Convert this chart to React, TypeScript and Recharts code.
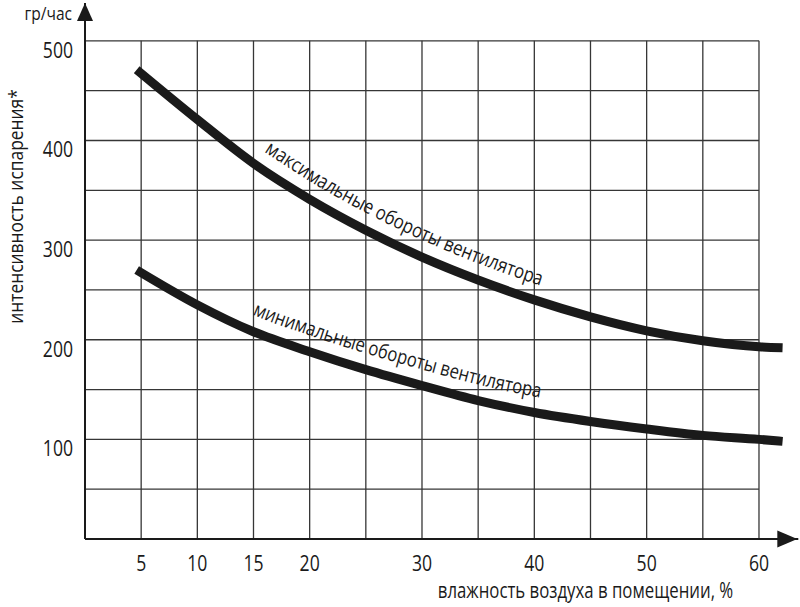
import React from 'react';
import { LineChart, Line, XAxis, YAxis, ReferenceLine, ReferenceDot, Customized } from 'recharts';

// ---- data ----
const humidity = [4.6, 10, 15, 20, 25, 30, 35, 40, 45, 50, 55, 60, 62.1];
const maxFan = [471, 421, 377, 341, 310, 283, 260, 240, 223, 209, 199, 193, 192];
const minFan = [270, 235, 208, 188, 170, 154, 139, 127, 118, 110.5, 104, 100, 98];
const xTickLabels = [5, 10, 15, 20, 30, 40, 50, 60];
const yTickLabels = [100, 200, 300, 400, 500];
const xGridValues = [5, 10, 15, 20, 25, 30, 35, 40, 45, 50, 55, 60];
const yGridValues = [50, 100, 150, 200, 250, 300, 350, 400, 450, 500];
const maxLabel = 'максимальные обороты вентилятора';
const minLabel = 'минимальные обороты вентилятора';
const xTitle = 'влажность воздуха в помещении, %';
const yTitle = 'интенсивность испарения*';
const yUnit = 'гр/час';

const data = humidity.map((h, i) => ({ h, max: maxFan[i], min: minFan[i] }));

const FONT = "'Open Sans', 'Noto Sans', 'DejaVu Sans', sans-serif";
const INK = '#1a1a1a';
const GRID = '#363636';

function offsetPoints(pts: any[], lift: number) {
  return pts.map((q: any, i: number) => {
    const a = pts[Math.max(i - 1, 0)];
    const b = pts[Math.min(i + 1, pts.length - 1)];
    const tx = b.x - a.x;
    const ty = b.y - a.y;
    const L = Math.hypot(tx, ty) || 1;
    return { x: q.x + (ty / L) * lift, y: q.y - (tx / L) * lift };
  });
}

function labelPath(pts: any[], fromIdx: number, lift: number) {
  const p = offsetPoints(pts, lift).slice(fromIdx);
  let d = `M${p[0].x},${p[0].y}`;
  for (let i = 0; i < p.length - 1; i++) {
    const p0 = p[i - 1] || p[i];
    const p1 = p[i];
    const p2 = p[i + 1];
    const p3 = p[i + 2] || p2;
    const c1x = p1.x + (p2.x - p0.x) / 6;
    const c1y = p1.y + (p2.y - p0.y) / 6;
    const c2x = p2.x - (p3.x - p1.x) / 6;
    const c2y = p2.y - (p3.y - p1.y) / 6;
    d += ` C${c1x},${c1y} ${c2x},${c2y} ${p2.x},${p2.y}`;
  }
  return d;
}

const makeLabelDot =
  (cfg: { id: string; text: string; from: number; lift: number; offset: number; length: number }) =>
  (props: any) => {
    const { index, points } = props;
    if (index !== 0 || !points) return <g key={`${cfg.id}-d${index}`} />;
    const pid = `path-${cfg.id}`;
    return (
      <g key={`${cfg.id}-d${index}`}>
        <path id={pid} d={labelPath(points, cfg.from, cfg.lift)} fill="none" stroke="none" />
        <text fontFamily={FONT} fontSize={20} fill={INK}>
          <textPath
            href={`#${pid}`}
            startOffset={cfg.offset}
            textLength={cfg.length}
            lengthAdjust="spacingAndGlyphs"
          >
            {cfg.text}
          </textPath>
        </text>
      </g>
    );
  };

const XTick = (props: any) => {
  const { x, y, payload } = props;
  return (
    <text
      transform={`translate(${x},${y}) scale(0.8,1)`}
      dy="0.72em"
      textAnchor="middle"
      fontFamily={FONT}
      fontSize={22}
      fill={INK}
    >
      {payload.value}
    </text>
  );
};

const YTick = (props: any) => {
  const { x, y, payload } = props;
  return (
    <text
      transform={`translate(${x},${y + 17}) scale(0.8,1)`}
      textAnchor="end"
      fontFamily={FONT}
      fontSize={22}
      fill={INK}
    >
      {payload.value}
    </text>
  );
};

const XArrow = (props: any) => {
  const { cx, cy } = props;
  return <path d={`M${cx - 1},${cy} l-20,-8.5 l0,17 z`} fill={INK} />;
};

const YArrow = (props: any) => {
  const { cx, cy } = props;
  return (
    <g>
      <path d={`M${cx},${cy} l-8,18 l16,0 z`} fill={INK} />
      <text
        transform={`translate(${cx - 13},${cy + 17}) scale(0.82,1)`}
        textAnchor="end"
        fontFamily={FONT}
        fontSize={19}
        fill={INK}
      >
        {yUnit}
      </text>
    </g>
  );
};

const Titles = () => (
  <g>
    <text
      transform="translate(23,206.5) rotate(-90) scale(0.87,1)"
      textAnchor="middle"
      fontFamily={FONT}
      fontSize={20}
      fill={INK}
    >
      {yTitle}
    </text>
    <text
      transform="translate(585.5,598) scale(0.8,1)"
      textAnchor="middle"
      fontFamily={FONT}
      fontSize={21}
      fill={INK}
    >
      {xTitle}
    </text>
  </g>
);

export default function App() {
  return (
    <div style={{ position: 'absolute', left: 0, top: 0, background: '#fff' }}>
      <LineChart width={800} height={607} data={data} margin={{ top: 3, right: 1.7, bottom: 0, left: 0 }}>
        <XAxis
          dataKey="h"
          type="number"
          domain={[0, 63.5]}
          ticks={xTickLabels}
          interval={0}
          tickLine={false}
          axisLine={{ stroke: INK, strokeWidth: 2 }}
          tick={<XTick />}
          tickMargin={10}
          height={68}
        />
        <YAxis
          type="number"
          domain={[0, 538]}
          ticks={yTickLabels}
          interval={0}
          tickLine={false}
          axisLine={{ stroke: INK, strokeWidth: 2 }}
          tick={<YTick />}
          tickMargin={6}
          width={85}
        />
        {yGridValues.map((v) => (
          <ReferenceLine
            key={`hy${v}`}
            segment={[{ x: 0, y: v }, { x: 60, y: v }]}
            stroke={GRID}
            strokeWidth={1.3}
          />
        ))}
        {xGridValues.map((v) => (
          <ReferenceLine
            key={`vx${v}`}
            segment={[{ x: v, y: 0 }, { x: v, y: 500 }]}
            stroke={GRID}
            strokeWidth={1.3}
          />
        ))}
        <Line
          dataKey="max"
          type="monotone"
          stroke={INK}
          strokeWidth={9}
          dot={makeLabelDot({ id: 'max', text: maxLabel, from: 2, lift: 15.5, offset: 2, length: 308 })}
          activeDot={false}
          isAnimationActive={false}
        />
        <Line
          dataKey="min"
          type="monotone"
          stroke={INK}
          strokeWidth={9}
          dot={makeLabelDot({ id: 'min', text: minLabel, from: 1, lift: 15.5, offset: 53, length: 300 })}
          activeDot={false}
          isAnimationActive={false}
        />
        <ReferenceDot x={63.5} y={0} r={1} shape={<XArrow />} ifOverflow="visible" />
        <ReferenceDot x={0} y={538} r={1} shape={<YArrow />} ifOverflow="visible" />
        <Customized component={Titles} />
      </LineChart>
    </div>
  );
}
